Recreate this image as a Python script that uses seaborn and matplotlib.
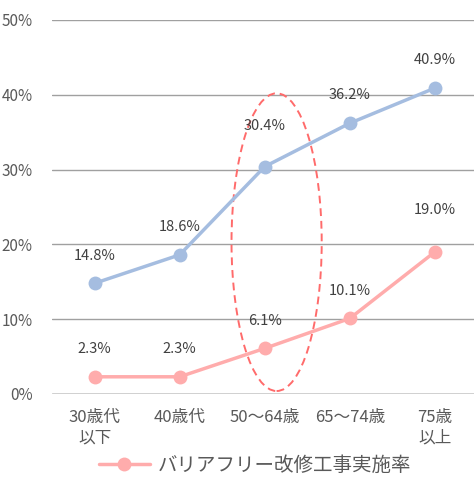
import matplotlib
matplotlib.use("Agg")
import matplotlib.pyplot as plt
import pandas as pd
import seaborn as sns
from matplotlib.patches import Ellipse

# Data
age_groups = ['30歳代\n以下', '40歳代', '50～64歳', '65～74歳', '75歳\n以上']
other_rate = [14.8, 18.6, 30.4, 36.2, 40.9]
barrier_free_rate = [2.3, 2.3, 6.1, 10.1, 19.0]
series_name = 'バリアフリー改修工事実施率'

BLUE = '#a5bde0'
PINK = '#ffacac'

sns.set_theme(style='white')
plt.rcParams['font.family'] = ['Noto Sans CJK JP', 'DejaVu Sans']

df = pd.DataFrame({'pos': range(len(age_groups)),
                   'other': other_rate,
                   'barrier': barrier_free_rate})

fig = plt.figure(figsize=(4.74, 4.80), dpi=100)
fig.set_facecolor('white')
ax = fig.add_axes([52 / 474, 86 / 480, 422 / 474, 374 / 480])

sns.lineplot(data=df, x='pos', y='other', ax=ax, color=BLUE, lw=2.5,
             marker='o', markersize=10, markeredgewidth=0, label='_nolegend_')
sns.lineplot(data=df, x='pos', y='barrier', ax=ax, color=PINK, lw=2.5,
             marker='o', markersize=10, markeredgewidth=0, label=series_name)

# data labels
for i, v in enumerate(other_rate):
    off = 29 if i == 2 else 20
    ax.annotate(f'{v:.1f}%', (i, v), xytext=(0, off), textcoords='offset points',
                ha='center', va='center', fontsize=10.5, color='#404040')
for i, v in enumerate(barrier_free_rate):
    off = 30 if i == 4 else 20
    ax.annotate(f'{v:.1f}%', (i, v), xytext=(0, off), textcoords='offset points',
                ha='center', va='center', fontsize=10.5, color='#404040')

# highlight ellipse
ax.add_patch(Ellipse((2.14, 20.3), 1.06, 39.8, fill=False, ec='#ff6b6b',
                     ls=(0, (4, 2.5)), lw=1.4, zorder=1))

ax.set_xlim(-0.5, 4.46)
ax.set_ylim(0, 50)
ax.set_xticks(range(len(age_groups)))
ax.set_xticklabels(age_groups, fontsize=12, color='#595959', linespacing=1.25)
ax.set_yticks(range(0, 51, 10))
ax.set_yticklabels([f'{t}%' for t in range(0, 51, 10)], fontsize=11, color='#595959')
ax.tick_params(axis='x', length=0, pad=11)
ax.tick_params(axis='y', length=0, pad=14)
ax.set_xlabel('')
ax.set_ylabel('')
for s in ax.spines.values():
    s.set_visible(False)
ax.yaxis.grid(True, color='#a0a0a0', lw=1)
ax.set_axisbelow(True)
ax.axhline(0, color='#d9d9d9', lw=2, zorder=0.5)

ax.get_legend().remove()
h, l = ax.get_legend_handles_labels()
fig.legend(h, l, loc='center', bbox_to_anchor=(255 / 474, 1 - 465 / 480),
           frameon=False, fontsize=14, handlelength=2.6, handletextpad=0.4,
           labelcolor='#595959')

fig.savefig('out.png', dpi=100)
